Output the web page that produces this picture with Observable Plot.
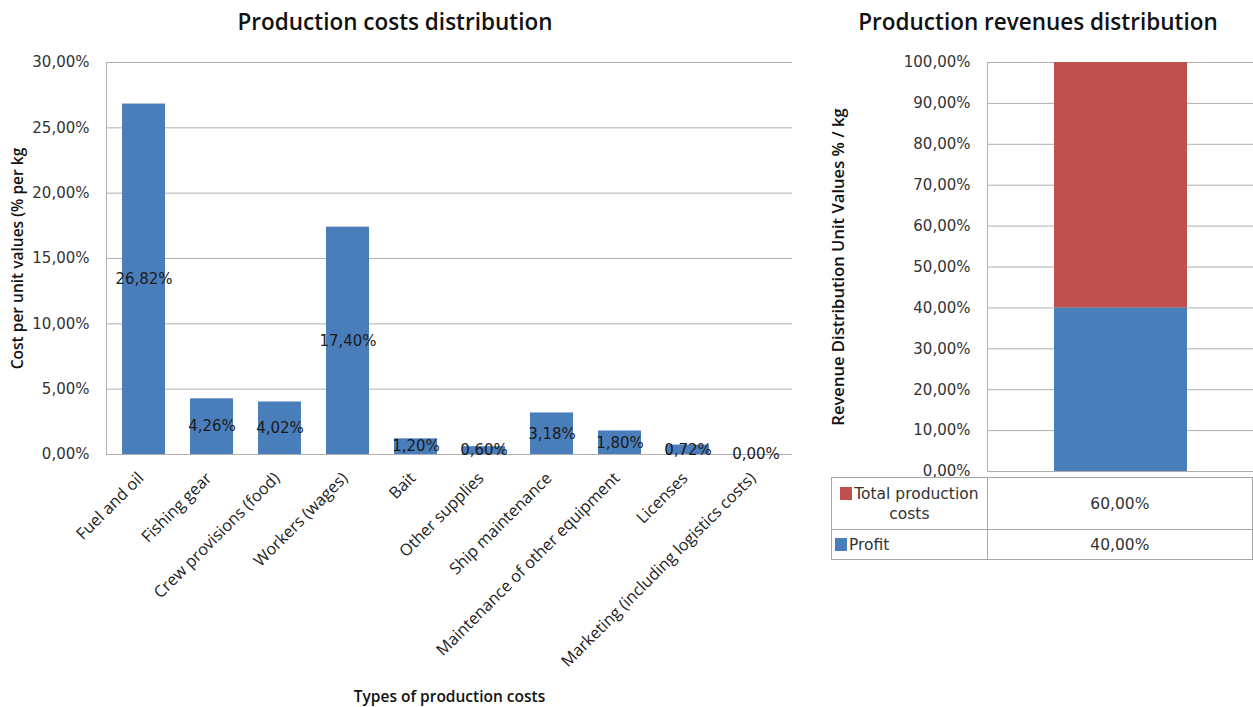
<!DOCTYPE html>
<html>
<head>
<meta charset="utf-8">
<script src="https://cdn.jsdelivr.net/npm/d3@7"></script>
<script src="https://cdn.jsdelivr.net/npm/@observablehq/plot@0.6"></script>
<style>
  html, body { margin: 0; padding: 0; background: #fff; }
  #root { position: relative; width: 1253px; height: 707px; overflow: hidden; background: #fff; }
  .title { position: absolute; top: 7px; font-family: "Open Sans", sans-serif; font-weight: 600; font-size: 22.5px; line-height: 30px; text-align: center; color: #111; }
  .chart { position: absolute; top: 0; }
  .xcat text { font-family: "Open Sans", sans-serif; }
  #revtable { position: absolute; left: 831px; top: 477px; border-collapse: collapse; font-family: "DejaVu Sans", sans-serif; font-size: 15.5px; color: #333; }
  #revtable td { border: 1px solid #A6A6A6; padding: 0 3px; line-height: 20px; }
  #revtable td.key { width: 149px; }
  #revtable td.val { width: 259px; text-align: center; }
  .sw { display: inline-block; width: 12px; height: 13px; margin-right: 2px; vertical-align: -1px; }
</style>
</head>
<body>
<div id="root">
  <div class="title" style="left:0;width:790px;">Production costs distribution</div>
  <div class="title" style="left:823px;width:430px;">Production revenues distribution</div>
</div>
<script>
// ---- Data ----
const categories = [
  "Fuel and oil",
  "Fishing gear",
  "Crew provisions (food)",
  "Workers (wages)",
  "Bait",
  "Other supplies",
  "Ship maintenance",
  "Maintenance of other equipment",
  "Licenses",
  "Marketing (including logistics costs)"
];
const costValues = [0.2682, 0.0426, 0.0402, 0.1740, 0.0120, 0.0060, 0.0318, 0.0180, 0.0072, 0.0000];
const costTicks = [0, 0.05, 0.10, 0.15, 0.20, 0.25, 0.30];

const revenueSeries = ["Profit", "Total production costs"];
const revenueValues = [0.40, 0.60];
const revenueColors = ["#4A7EBB", "#C0504D"];
const revenueTicks = [0, 0.1, 0.2, 0.3, 0.4, 0.5, 0.6, 0.7, 0.8, 0.9, 1.0];

const costTitleY = "Cost per unit values (% per kg";
const costTitleX = "Types of production costs";
const revTitleY = "Revenue Distribution Unit Values % / kg";

const fmt = v => (v * 100).toFixed(2).replace(".", ",") + "%";

const costData = categories.map((c, i) => ({category: c, value: costValues[i]}));
const revData = revenueSeries.map((s, i) => ({series: s, value: revenueValues[i], color: revenueColors[i]}));

const root = document.getElementById("root");

// ---- Chart 1: costs ----
const chart1 = Plot.plot({
  width: 800,
  height: 707,
  marginLeft: 106,
  marginRight: 8,
  marginTop: 62,
  marginBottom: 253,
  style: {fontFamily: "DejaVu Sans, sans-serif", fontSize: "15px", color: "#333", background: "transparent", overflow: "visible"},
  x: {domain: categories, paddingInner: 0.37, paddingOuter: 0.185, axis: null},
  y: {domain: [0, 0.30], axis: null},
  marks: [
    Plot.ruleY(costTicks, {stroke: "#B0B0B0", strokeWidth: 1}),
    Plot.frame({anchor: "left", stroke: "#B0B0B0"}),
    Plot.barY(costData, {x: "category", y: "value", fill: "#4A7EBB"}),
    Plot.text(costData, {x: "category", y: d => d.value / 2, text: d => fmt(d.value), fill: "#1a1a1a", fontSize: 15}),
    Plot.axisY({ticks: costTicks, tickFormat: fmt, tickSize: 0, tickPadding: 17, label: null, fontSize: 15}),
    Plot.axisX({tickRotate: -45, tickSize: 0, tickPadding: 21, dx: -3, label: null, fontSize: 16.3, className: "xcat", fill: "#222"}),
    Plot.text([costTitleY], {frameAnchor: "left", dx: -88, rotate: -90, textAnchor: "middle", lineAnchor: "middle", fontWeight: 600, fontSize: 15.5, fontFamily: "Open Sans, sans-serif", fill: "#111"}),
    Plot.text([costTitleX], {frameAnchor: "bottom", dy: 243, textAnchor: "middle", lineAnchor: "middle", fontWeight: 600, fontSize: 15.5, fontFamily: "Open Sans, sans-serif", fill: "#111"})
  ]
});
chart1.classList.add("chart");
chart1.style.left = "0px";
root.appendChild(chart1);

// ---- Chart 2: revenues ----
const chart2 = Plot.plot({
  width: 433,
  height: 480,
  marginLeft: 167,
  marginRight: 0,
  marginTop: 62,
  marginBottom: 9,
  style: {fontFamily: "DejaVu Sans, sans-serif", fontSize: "15px", color: "#333", background: "transparent", overflow: "visible"},
  x: {domain: ["Revenue"], paddingInner: 0.5, paddingOuter: 0.2354, axis: null},
  y: {domain: [0, 1], axis: null},
  color: {type: "identity"},
  marks: [
    Plot.ruleY(revenueTicks, {stroke: "#B0B0B0", strokeWidth: 1}),
    Plot.frame({anchor: "left", stroke: "#B0B0B0"}),
    Plot.barY(revData, {x: () => "Revenue", y: "value", fill: "color"}),
    Plot.axisY({ticks: revenueTicks, tickFormat: fmt, tickSize: 0, tickPadding: 17, label: null, fontSize: 15}),
    Plot.text([revTitleY], {frameAnchor: "left", dx: -149, rotate: -90, textAnchor: "middle", lineAnchor: "middle", fontWeight: 600, fontSize: 16.6, fontFamily: "Open Sans, sans-serif", fill: "#111"})
  ]
});
chart2.classList.add("chart");
chart2.style.left = "820px";
root.appendChild(chart2);

// ---- Data table under chart 2 ----
const table = document.createElement("table");
table.id = "revtable";
const rowsOrder = revenueSeries.map((s, i) => i).reverse();
rowsOrder.forEach((i, k) => {
  const tr = document.createElement("tr");
  tr.style.height = k === 0 ? "52px" : "30px";
  const key = document.createElement("td");
  key.className = "key";
  key.style.textAlign = k === 0 ? "center" : "left";
  key.innerHTML = `<span class="sw" style="background:${revenueColors[i]}"></span>${revenueSeries[i]}`;
  const val = document.createElement("td");
  val.className = "val";
  val.textContent = fmt(revenueValues[i]);
  tr.appendChild(key);
  tr.appendChild(val);
  table.appendChild(tr);
});
root.appendChild(table);
</script>
</body>
</html>
